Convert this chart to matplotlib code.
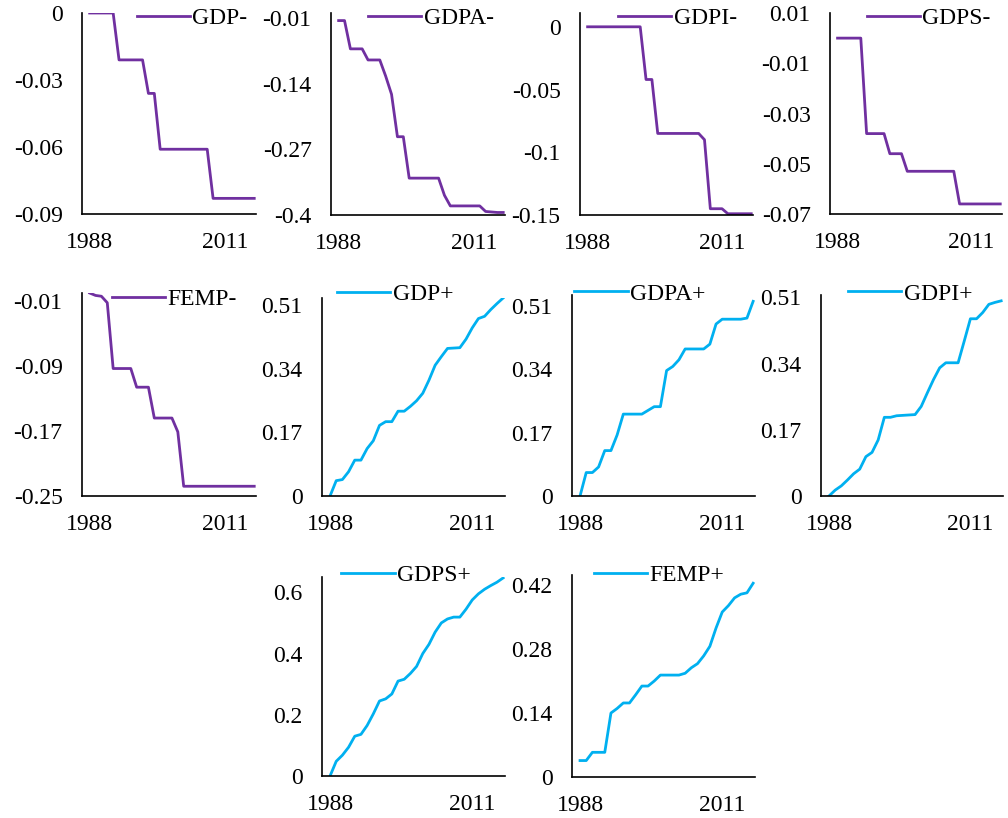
import numpy as np
import matplotlib
matplotlib.use("Agg")
import matplotlib.pyplot as plt

plt.rcParams["font.family"] = ["Liberation Serif", "DejaVu Serif"]
plt.rcParams["font.size"] = 17

years = list(range(1988, 2017))
xtick_years = [1988, 2011]

purple = "#7030A0"
cyan = "#00B0F0"

gdp_neg = [0, 0, 0, 0, 0, -0.021, -0.021, -0.021, -0.021, -0.021, -0.036, -0.036,
           -0.061, -0.061, -0.061, -0.061, -0.061, -0.061, -0.061, -0.061, -0.061,
           -0.083, -0.083, -0.083, -0.083, -0.083, -0.083, -0.083, -0.083]
gdpa_neg = [-0.015, -0.015, -0.071, -0.071, -0.071, -0.093, -0.093, -0.093, -0.125,
            -0.161, -0.245, -0.245, -0.327, -0.327, -0.327, -0.327, -0.327, -0.327,
            -0.361, -0.382, -0.382, -0.382, -0.382, -0.382, -0.382, -0.393, -0.394,
            -0.395, -0.395]
gdpi_neg = [0, 0, 0, 0, 0, 0, 0, 0, 0, 0, -0.042, -0.042, -0.085, -0.085, -0.085,
            -0.085, -0.085, -0.085, -0.085, -0.085, -0.09, -0.145, -0.145, -0.145,
            -0.149, -0.149, -0.149, -0.149, -0.149]
gdps_neg = [0, 0, 0, 0, 0, -0.038, -0.038, -0.038, -0.038, -0.046, -0.046, -0.046,
            -0.053, -0.053, -0.053, -0.053, -0.053, -0.053, -0.053, -0.053, -0.053,
            -0.066, -0.066, -0.066, -0.066, -0.066, -0.066, -0.066, -0.066]
femp_neg = [0.0, -0.003, -0.004, -0.012, -0.093, -0.093, -0.093, -0.093, -0.116,
            -0.116, -0.116, -0.154, -0.154, -0.154, -0.154, -0.171, -0.238, -0.238,
            -0.238, -0.238, -0.238, -0.238, -0.238, -0.238, -0.238, -0.238, -0.238,
            -0.238, -0.238]
gdp_pos = [0, 0.041, 0.044, 0.065, 0.096, 0.096, 0.127, 0.148, 0.189, 0.199, 0.199,
           0.227, 0.227, 0.24, 0.255, 0.275, 0.31, 0.35, 0.373, 0.395, 0.396, 0.397,
           0.42, 0.45, 0.475, 0.481, 0.499, 0.515, 0.53]
gdpa_pos = [0, 0.063, 0.063, 0.078, 0.122, 0.122, 0.164, 0.22, 0.22, 0.22, 0.22,
            0.23, 0.24, 0.24, 0.337, 0.348, 0.366, 0.395, 0.395, 0.395, 0.395, 0.408,
            0.462, 0.475, 0.475, 0.475, 0.475, 0.478, 0.523]
gdpi_pos = [0, 0.015, 0.026, 0.041, 0.057, 0.069, 0.101, 0.112, 0.144, 0.202, 0.202,
            0.206, 0.207, 0.208, 0.209, 0.23, 0.265, 0.299, 0.329, 0.342, 0.342,
            0.342, 0.398, 0.455, 0.455, 0.471, 0.492, 0.497, 0.501]
gdps_pos = [0, 0.048, 0.068, 0.094, 0.13, 0.136, 0.165, 0.203, 0.245, 0.252, 0.268,
            0.31, 0.316, 0.335, 0.358, 0.4, 0.43, 0.47, 0.5, 0.513, 0.519, 0.519,
            0.545, 0.575, 0.595, 0.61, 0.622, 0.633, 0.647]
femp_pos = [0.036, 0.036, 0.054, 0.054, 0.054, 0.14, 0.15, 0.162, 0.162, 0.18, 0.199,
            0.199, 0.21, 0.223, 0.223, 0.223, 0.223, 0.227, 0.239, 0.248, 0.265,
            0.286, 0.326, 0.361, 0.375, 0.392, 0.4, 0.403, 0.424]

names = ["GDP-", "GDPA-", "GDPI-", "GDPS-", "FEMP-",
         "GDP+", "GDPA+", "GDPI+", "GDPS+", "FEMP+"]
series = [gdp_neg, gdpa_neg, gdpi_neg, gdps_neg, femp_neg,
          gdp_pos, gdpa_pos, gdpi_pos, gdps_pos, femp_pos]
yticks = [[0, -0.03, -0.06, -0.09],
          [-0.01, -0.14, -0.27, -0.4],
          [0, -0.05, -0.1, -0.15],
          [0.01, -0.01, -0.03, -0.05, -0.07],
          [-0.01, -0.09, -0.17, -0.25],
          [0, 0.17, 0.34, 0.51],
          [0, 0.17, 0.34, 0.51],
          [0, 0.17, 0.34, 0.51],
          [0, 0.2, 0.4, 0.6],
          [0, 0.14, 0.28, 0.42]]

# layout (pixels) : x0, y0(top), x1, y1(bottom), ylim, legend anchor
boxes = [(82, 13, 256, 214), (331, 13, 505, 215), (580, 13, 753, 215), (830, 13, 1002, 214),
         (82, 293, 256, 496), (322, 298, 505, 496), (572, 295, 755, 496), (821, 295, 1003, 496),
         (322, 577, 505, 776), (572, 575, 755, 777)]
ylims = [(-0.09, 0), (-0.4, 0), (-0.15, 0.011), (-0.07, 0.01), (-0.25, 0),
         (0, 0.53), (0, 0.54), (0, 0.516), (0, 0.65), (0, 0.442)]
leg_pos = [(0.316, 0.975), (0.213, 0.974), (0.22, 0.974), (0.215, 0.975), (0.172, 0.97),
           (0.083, 1.02), (0.013, 1.005), (0.15, 1.005), (0.106, 1.008), (0.122, 1.0)]

W, H = 1008, 818
fig = plt.figure(figsize=(W / 100, H / 100), dpi=100)

for i in range(10):
    x0, y0, x1, y1 = boxes[i]
    ax = fig.add_axes([x0 / W, 1 - y1 / H, (x1 - x0) / W, (y1 - y0) / H])
    color = purple if names[i].endswith("-") else cyan
    ax.plot(years, series[i], color=color, lw=2.0, label=names[i])
    ax.set_xlim(1986.7, 2016.3)
    ax.set_ylim(*ylims[i])
    ax.set_xticks(xtick_years)
    ax.set_xticklabels([str(y) for y in xtick_years])
    ax.set_yticks(yticks[i])
    ax.set_yticklabels(["{:g}".format(v) for v in yticks[i]])
    ax.tick_params(length=0)
    ax.tick_params(axis="y", pad=14)
    ax.tick_params(axis="x", pad=13)
    for s in ["top", "right"]:
        ax.spines[s].set_visible(False)
    for s in ["left", "bottom"]:
        ax.spines[s].set_linewidth(1.2)
        ax.spines[s].set_color("black")
    ax.patch.set_alpha(0)
    ax.legend(loc="center left", bbox_to_anchor=leg_pos[i], frameon=False,
              handlelength=2.25, handletextpad=0.1, borderpad=0, borderaxespad=0,
              fontsize=17)

fig.savefig("out.png", dpi=100)
